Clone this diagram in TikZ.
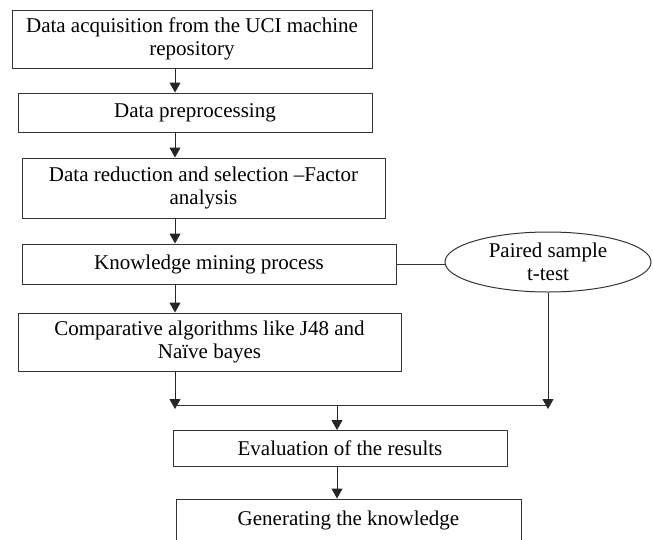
\documentclass[tikz,border=0pt]{standalone}
\usepackage{fontspec}
\setmainfont{Liberation Serif}
\usetikzlibrary{arrows.meta,shapes.geometric}

\begin{document}
\begin{tikzpicture}[
        x=1pt, y=-1pt,
        % Box styles
        stepbox/.style={rectangle, draw=black!80, line width=1pt, align=center, inner sep=0pt, font=\fontsize{21}{23}\selectfont},
        testnode/.style={ellipse, draw=black!80, line width=1pt, align=center, inner sep=0pt, minimum width=206pt, minimum height=60pt, font=\fontsize{21}{23}\selectfont},
        % Connector styles
        flow/.style={-{Triangle[length=10pt, width=11pt]}, line width=1pt, black!85},
        link/.style={line width=1pt, black!80}
    ]
    \clip (0,0) rectangle (653,539);

    % Main column
    \node[stepbox, minimum width=360pt, minimum height=58pt] (acq) at (192,39) {Data acquisition from the UCI machine\\repository};
    \node[stepbox, minimum width=354pt, minimum height=39pt] (pre) at (195,112.5) {Data preprocessing};
    \node[stepbox, minimum width=363pt, minimum height=60pt] (red) at (203.5,188) {Data reduction and selection --Factor\\analysis};
    \node[stepbox, minimum width=374pt, minimum height=40pt] (mining) at (209,264) {Knowledge mining process};
    \node[stepbox, minimum width=383pt, minimum height=58pt] (comp) at (209.5,342) {Comparative algorithms like J48 and\\Naïve bayes};

    % Side test
    \node[testnode] (ptest) at (548,262) {Paired sample\\t-test};

    % Lower part
    \node[stepbox, minimum width=334pt, minimum height=36pt] (eval) at (340,448) {Evaluation of the results};
    \node[stepbox, minimum width=345pt, minimum height=46pt, text depth=8pt] (gen) at (348.5,522) {Generating the knowledge};

    % Helper coordinates
    \coordinate (spine) at (175,0);
    \coordinate (bus) at (0,405);

    % Arrows down the column
    \draw[flow] (acq.south -| spine) -- (pre.north -| spine);
    \draw[flow] (pre.south -| spine) -- (red.north -| spine);
    \draw[flow] (red.south -| spine) -- (mining.north -| spine);
    \draw[flow] (mining.south -| spine) -- (comp.north -| spine);
    \draw[link] (mining.east) -- (mining.east -| ptest.west);

    % Merging
    \draw[flow] (comp.south -| spine) -- ([yshift=-4pt]spine |- bus);
    \draw[flow] (ptest.south) -- ([yshift=-4pt]ptest.south |- bus);
    \draw[link] (spine |- bus) -- (ptest.south |- bus);
    \draw[flow] (337,405) -- (337,430);
    \draw[flow] (eval.south -| 337,0) -- (gen.north -| 337,0);

\end{tikzpicture}
\end{document}
